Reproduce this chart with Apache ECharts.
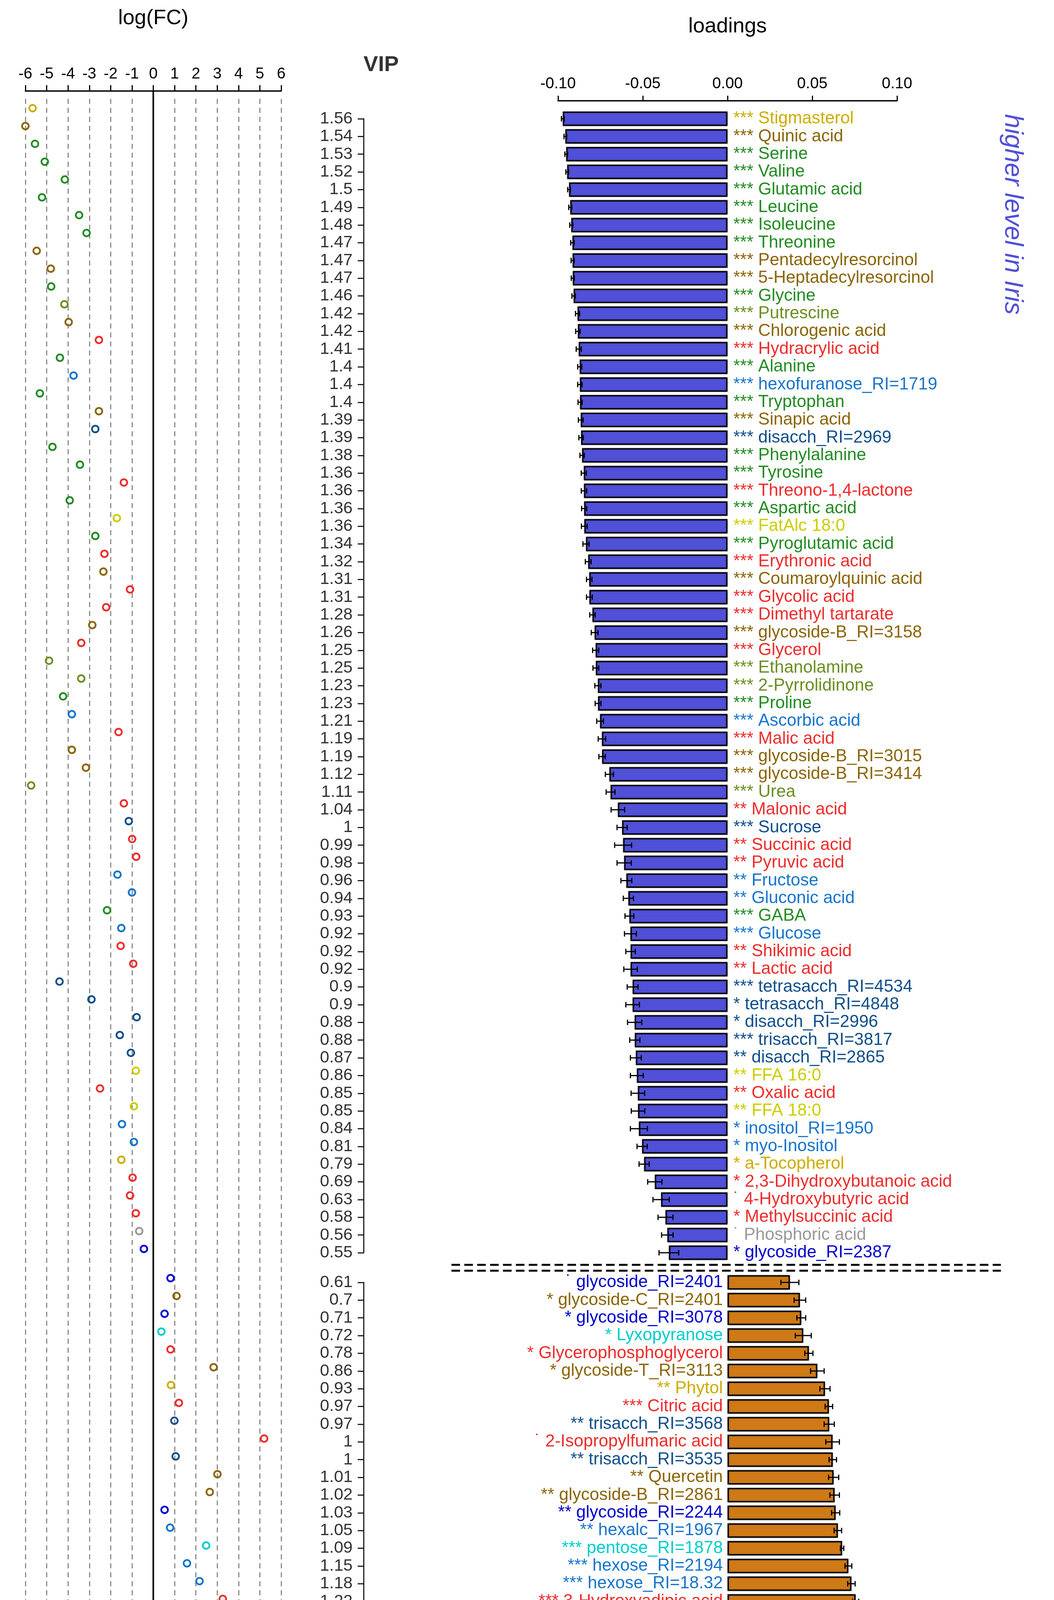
<!DOCTYPE html>
<html>
<head>
<meta charset="utf-8">
<script src="https://cdn.jsdelivr.net/npm/echarts@6/dist/echarts.min.js"></script>
<style>
  html, body { margin: 0; padding: 0; background: #fff; }
  #chart { width: 2699px; height: 4933px; }
</style>
</head>
<body>
<div id="chart"></div>
<script>
// 上半部分：在 Iris 中含量更高（负载为负）
const upperNames = ['Stigmasterol', 'Quinic acid', 'Serine', 'Valine', 'Glutamic acid', 'Leucine', 'Isoleucine', 'Threonine', 'Pentadecylresorcinol', '5-Heptadecylresorcinol',
  'Glycine', 'Putrescine', 'Chlorogenic acid', 'Hydracrylic acid', 'Alanine', 'hexofuranose_RI=1719', 'Tryptophan', 'Sinapic acid', 'disacch_RI=2969', 'Phenylalanine',
  'Tyrosine', 'Threono-1,4-lactone', 'Aspartic acid', 'FatAlc 18:0', 'Pyroglutamic acid', 'Erythronic acid', 'Coumaroylquinic acid', 'Glycolic acid', 'Dimethyl tartarate', 'glycoside-B_RI=3158',
  'Glycerol', 'Ethanolamine', '2-Pyrrolidinone', 'Proline', 'Ascorbic acid', 'Malic acid', 'glycoside-B_RI=3015', 'glycoside-B_RI=3414', 'Urea', 'Malonic acid',
  'Sucrose', 'Succinic acid', 'Pyruvic acid', 'Fructose', 'Gluconic acid', 'GABA', 'Glucose', 'Shikimic acid', 'Lactic acid', 'tetrasacch_RI=4534',
  'tetrasacch_RI=4848', 'disacch_RI=2996', 'trisacch_RI=3817', 'disacch_RI=2865', 'FFA 16:0', 'Oxalic acid', 'FFA 18:0', 'inositol_RI=1950', 'myo-Inositol', 'a-Tocopherol',
  '2,3-Dihydroxybutanoic acid', '4-Hydroxybutyric acid', 'Methylsuccinic acid', 'Phosphoric acid', 'glycoside_RI=2387'];
const upperStars = ['***', '***', '***', '***', '***', '***', '***', '***', '***', '***',
  '***', '***', '***', '***', '***', '***', '***', '***', '***', '***',
  '***', '***', '***', '***', '***', '***', '***', '***', '***', '***',
  '***', '***', '***', '***', '***', '***', '***', '***', '***', '**',
  '***', '**', '**', '**', '**', '***', '***', '**', '**', '***',
  '*', '*', '***', '**', '**', '**', '**', '*', '*', '*',
  '*', '˙', '*', '˙', '*'];
const upperClass = ['terp', 'phen', 'amino', 'amino', 'amino', 'amino', 'amino', 'amino', 'phen', 'phen',
  'amino', 'amine', 'phen', 'acid', 'amino', 'sugar', 'amino', 'phen', 'oligo', 'amino',
  'amino', 'acid', 'amino', 'fatty', 'amino', 'acid', 'phen', 'acid', 'acid', 'phen',
  'acid', 'amine', 'amine', 'amino', 'sugar', 'acid', 'phen', 'phen', 'amine', 'acid',
  'oligo', 'acid', 'acid', 'sugar', 'sugar', 'amino', 'sugar', 'acid', 'acid', 'oligo',
  'oligo', 'oligo', 'oligo', 'oligo', 'fatty', 'acid', 'fatty', 'sugar', 'sugar', 'terp',
  'acid', 'acid', 'acid', 'other', 'glyc'];
const upperVip = [1.56, 1.54, 1.53, 1.52, 1.5, 1.49, 1.48, 1.47, 1.47, 1.47,
  1.46, 1.42, 1.42, 1.41, 1.4, 1.4, 1.4, 1.39, 1.39, 1.38,
  1.36, 1.36, 1.36, 1.36, 1.34, 1.32, 1.31, 1.31, 1.28, 1.26,
  1.25, 1.25, 1.23, 1.23, 1.21, 1.19, 1.19, 1.12, 1.11, 1.04,
  1, 0.99, 0.98, 0.96, 0.94, 0.93, 0.92, 0.92, 0.92, 0.9,
  0.9, 0.88, 0.88, 0.87, 0.86, 0.85, 0.85, 0.84, 0.81, 0.79,
  0.69, 0.63, 0.58, 0.56, 0.55];
const upperLoad = [-0.0972, -0.0957, -0.0952, -0.0946, -0.0935, -0.0928, -0.0922, -0.0915, -0.0914, -0.0913,
  -0.0908, -0.0885, -0.0883, -0.0878, -0.0872, -0.0871, -0.0870, -0.0866, -0.0864, -0.0858,
  -0.0848, -0.0847, -0.0846, -0.0845, -0.0835, -0.0822, -0.0816, -0.0815, -0.0797, -0.0784,
  -0.0778, -0.0777, -0.0765, -0.0764, -0.0752, -0.0741, -0.0740, -0.0697, -0.0690, -0.0647,
  -0.0622, -0.0616, -0.0610, -0.0597, -0.0585, -0.0579, -0.0573, -0.0572, -0.0572, -0.0560,
  -0.0560, -0.0548, -0.0547, -0.0541, -0.0535, -0.0529, -0.0528, -0.0523, -0.0504, -0.0492,
  -0.0429, -0.0392, -0.0366, -0.0355, -0.0346];
const upperErr = [0.0008, 0.0008, 0.0008, 0.0008, 0.0008, 0.0009, 0.0009, 0.0010, 0.0009, 0.0009,
  0.0010, 0.0012, 0.0013, 0.0015, 0.0012, 0.0013, 0.0012, 0.0014, 0.0013, 0.0013,
  0.0015, 0.0016, 0.0015, 0.0017, 0.0018, 0.0017, 0.0016, 0.0017, 0.0016, 0.0020,
  0.0018, 0.0017, 0.0018, 0.0017, 0.0020, 0.0022, 0.0019, 0.0024, 0.0026, 0.0040,
  0.0030, 0.0050, 0.0042, 0.0032, 0.0030, 0.0026, 0.0035, 0.0028, 0.0040, 0.0032,
  0.0040, 0.0042, 0.0030, 0.0032, 0.0038, 0.0040, 0.0040, 0.0050, 0.0030, 0.0030,
  0.0042, 0.0048, 0.0044, 0.0034, 0.0058];
const upperFC = [-5.66, -6.0, -5.55, -5.09, -4.15, -5.22, -3.48, -3.13, -5.47, -4.81,
  -4.79, -4.17, -3.97, -2.55, -4.38, -3.74, -5.32, -2.55, -2.72, -4.73,
  -3.44, -1.38, -3.92, -1.71, -2.72, -2.29, -2.34, -1.09, -2.21, -2.86,
  -3.38, -4.89, -3.38, -4.23, -3.82, -1.63, -3.82, -3.16, -5.73, -1.38,
  -1.15, -0.99, -0.80, -1.68, -1.00, -2.17, -1.50, -1.53, -0.94, -4.40,
  -2.90, -0.78, -1.57, -1.05, -0.82, -2.50, -0.91, -1.47, -0.91, -1.50,
  -0.97, -1.09, -0.82, -0.66, -0.44];

// 下半部分：在 cinquefoils 中含量更高（负载为正）
const lowerNames = ['glycoside_RI=2401', 'glycoside-C_RI=2401', 'glycoside_RI=3078', 'Lyxopyranose', 'Glycerophosphoglycerol', 'glycoside-T_RI=3113', 'Phytol', 'Citric acid', 'trisacch_RI=3568', '2-Isopropylfumaric acid',
  'trisacch_RI=3535', 'Quercetin', 'glycoside-B_RI=2861', 'glycoside_RI=2244', 'hexalc_RI=1967', 'pentose_RI=1878', 'hexose_RI=2194', 'hexose_RI=18.32', '3-Hydroxyadipic acid', 'pentose_RI=1708',
  'Ellagic acid', 'Kaempferol', 'glycoside-C_RI=2204', 'Tartaric acid', 'Xylose', 'Glyceric acid', '4-Coumaric acid', 'Ribofuranose', 'triterpene_RI=3857', 'glycoside-B_RI=2633',
  'glycoside_RI=2396', 'hexalc_RI=1958', 'glycoside_RI=3280', 'Ursolic acid', 'Corosolic acid', 'triterpene_RI=4148'];
const lowerStars = ['˙', '*', '*', '*', '*', '*', '**', '***', '**', '˙',
  '**', '**', '**', '**', '**', '***', '***', '***', '***', '***',
  '***', '***', '***', '***', '***', '***', '***', '***', '***', '***',
  '***', '***', '***', '***', '***', '***'];
const lowerClass = ['glyc', 'phen', 'glyc', 'pent', 'acid', 'phen', 'terp', 'acid', 'oligo', 'acid',
  'oligo', 'phen', 'phen', 'glyc', 'sugar', 'pent', 'sugar', 'sugar', 'acid', 'pent',
  'phen', 'phen', 'phen', 'acid', 'pent', 'acid', 'phen', 'pent', 'terp', 'phen',
  'glyc', 'sugar', 'glyc', 'terp', 'terp', 'terp'];
const lowerVip = [0.61, 0.7, 0.71, 0.72, 0.78, 0.86, 0.93, 0.97, 0.97, 1,
  1, 1.01, 1.02, 1.03, 1.05, 1.09, 1.15, 1.18, 1.22, 1.24,
  1.24, 1.26, 1.28, 1.28, 1.33, 1.35, 1.36, 1.43, 1.43, 1.43,
  1.45, 1.45, 1.46, 1.48, 1.51, 1.51];
const lowerLoad = [0.0368, 0.0427, 0.0435, 0.0447, 0.0480, 0.0530, 0.0575, 0.0598, 0.0600, 0.0620,
  0.0621, 0.0626, 0.0632, 0.0638, 0.0651, 0.0676, 0.0713, 0.0731, 0.0756, 0.0768,
  0.0769, 0.0781, 0.0793, 0.0794, 0.0825, 0.0837, 0.0843, 0.0889, 0.0889, 0.0894,
  0.0899, 0.0904, 0.0910, 0.0920, 0.0935, 0.0941];
const lowerErr = [0.0053, 0.0034, 0.0026, 0.0047, 0.0024, 0.0040, 0.0030, 0.0022, 0.0030, 0.0040,
  0.0022, 0.0030, 0.0028, 0.0024, 0.0022, 0.0010, 0.0020, 0.0022, 0.0018, 0.0018,
  0.0020, 0.0015, 0.0015, 0.0015, 0.0020, 0.0015, 0.0020, 0.0008, 0.0012, 0.0010,
  0.0010, 0.0010, 0.0010, 0.0010, 0.0010, 0.0010];
const lowerFC = [0.81, 1.09, 0.53, 0.38, 0.81, 2.83, 0.83, 1.20, 0.99, 5.20,
  1.05, 3.01, 2.65, 0.53, 0.79, 2.48, 1.58, 2.17, 3.26, 1.88,
  3.31, 2.87, 2.75, 2.42, 6.0, 4.05, 3.03, 4.85, 3.37, 2.92,
  2.09, 3.85, 2.53, 4.19, 4.85, 3.08];

const fcTicks = [-6, 6, 1];
const loadTicks = [-0.1, 0.1, 0.05];

// 代谢物类别颜色
const classColor = {
  terp: '#CDAD00', phen: '#8B6508', amino: '#228B22', amine: '#6B8E23', acid: '#EE2C2C',
  sugar: '#1874CD', oligo: '#104E8B', fatty: '#CDCD00', glyc: '#0000CD', pent: '#00CDCD', other: '#999999'
};
const BLUE = '#5050D8';
const ORANGE = '#CF7A17';
const FONT = '"Liberation Sans", Arial, Helvetica, sans-serif';
const LABEL_FONT = '44px ' + FONT;

// log(FC) 面板中上下两组之间的间隔（以行计）
const FC_GAP = 1.64;
const fcData = upperFC.map((v, i) => ({ value: [v, i], itemStyle: { borderColor: classColor[upperClass[i]] } }))
  .concat(lowerFC.map((v, j) => ({ value: [v, upperFC.length - 1 + FC_GAP + j], itemStyle: { borderColor: classColor[lowerClass[j]] } })));

function errorBar(errs) {
  return function (params, api) {
    const v = api.value(0), i = api.value(1), e = errs[params.dataIndex];
    const a = api.coord([v - e, i]);
    const b = api.coord([v + e, i]);
    const h = 7;
    const st = { stroke: '#000', lineWidth: 3 };
    return {
      type: 'group',
      children: [
        { type: 'line', shape: { x1: a[0], y1: a[1], x2: b[0], y2: b[1] }, style: st },
        { type: 'line', shape: { x1: a[0], y1: a[1] - h, x2: a[0], y2: a[1] + h }, style: st },
        { type: 'line', shape: { x1: b[0], y1: b[1] - h, x2: b[0], y2: b[1] + h }, style: st }
      ]
    };
  };
}

function nameLabel(names, stars, cls, side) {
  return function (params, api) {
    const i = params.dataIndex;
    const p = api.coord([0, api.value(1)]);
    return {
      type: 'text',
      x: side > 0 ? p[0] + 15 : p[0] - 12,
      y: p[1],
      style: {
        text: stars[i] + ' ' + names[i],
        fill: classColor[cls[i]],
        font: LABEL_FONT,
        align: side > 0 ? 'left' : 'right',
        verticalAlign: 'middle'
      }
    };
  };
}

function vipAxis(gridIndex, names, vips) {
  return {
    type: 'category', gridIndex: gridIndex, data: names, inverse: true, boundaryGap: false,
    position: 'left', offset: 498,
    axisLine: { show: true, onZero: false, lineStyle: { color: '#222', width: 3 } },
    axisTick: { show: true, length: 15, interval: 0, lineStyle: { color: '#222', width: 3 } },
    axisLabel: {
      interval: 0, margin: 28, fontSize: 43, color: '#333', fontFamily: FONT,
      formatter: function (v, idx) { return String(vips[idx]); }
    },
    splitLine: { show: false }
  };
}

const chart = echarts.init(document.getElementById('chart'), null, { renderer: 'canvas' });

const graphicEls = [
  { type: 'text', x: 976, y: 167, style: { text: 'VIP', font: 'bold 56px ' + FONT, fill: '#333', align: 'center', verticalAlign: 'middle' } },
  { type: 'text', x: 2592, y: 292, rotation: -Math.PI / 2, style: { text: 'higher level in Iris', font: 'italic 66px ' + FONT, fill: BLUE, align: 'left', verticalAlign: 'middle' } },
  { type: 'text', x: 2592, y: 4876, rotation: -Math.PI / 2, style: { text: 'higher level in cinquefoils', font: 'italic 66px ' + FONT, fill: ORANGE, align: 'right', verticalAlign: 'middle' } },
  { type: 'line', shape: { x1: 1156, y1: 3238, x2: 2563, y2: 3238 }, style: { stroke: '#000', lineWidth: 5, lineDash: [22, 11] } },
  { type: 'line', shape: { x1: 1156, y1: 3253, x2: 2563, y2: 3253 }, style: { stroke: '#000', lineWidth: 5, lineDash: [22, 11] } }
];

const option = {
  animation: false,
  backgroundColor: '#fff',
  textStyle: { fontFamily: FONT },
  grid: [
    { left: 65, width: 655, top: 253, bottom: 44, outerBoundsMode: 'none' },
    { left: 1429, right: 402, top: 304, height: 2903, outerBoundsMode: 'none' },
    { left: 1429, right: 402, top: 3283, height: 1588, outerBoundsMode: 'none' }
  ],
  xAxis: [
    {
      type: 'value', gridIndex: 0, position: 'top', offset: 20,
      min: fcTicks[0], max: fcTicks[1], interval: fcTicks[2],
      name: 'log(FC)', nameLocation: 'middle', nameGap: 159,
      nameTextStyle: { fontSize: 54, color: '#000', fontFamily: FONT },
      axisLine: { show: true, onZero: false, lineStyle: { color: '#000', width: 3.5 } },
      axisTick: { show: true, length: 15, lineStyle: { color: '#000', width: 3 } },
      axisLabel: { fontSize: 40, color: '#000', margin: 23, fontFamily: FONT },
      splitLine: { show: true, lineStyle: { color: '#8c8c8c', width: 3, type: [13, 10] } }
    },
    {
      type: 'value', gridIndex: 1, position: 'top', offset: 46,
      min: loadTicks[0], max: loadTicks[1], interval: loadTicks[2],
      name: 'loadings', nameLocation: 'middle', nameGap: 163,
      nameTextStyle: { fontSize: 54, color: '#000', fontFamily: FONT },
      axisLine: { show: true, onZero: false, lineStyle: { color: '#000', width: 3.5 } },
      axisTick: { show: true, length: 13, lineStyle: { color: '#000', width: 3 } },
      axisLabel: { fontSize: 40, color: '#000', margin: 23, fontFamily: FONT, formatter: v => v.toFixed(2) },
      splitLine: { show: false }
    },
    { type: 'value', gridIndex: 2, min: loadTicks[0], max: loadTicks[1], show: false, axisLine: { onZero: false }, splitLine: { show: false } }
  ],
  yAxis: [
    { type: 'value', gridIndex: 0, inverse: true, min: -0.526, max: 101.079, show: false, axisLine: { onZero: false }, splitLine: { show: false } },
    vipAxis(1, upperNames, upperVip),
    vipAxis(2, lowerNames, lowerVip)
  ],
  series: [
    {
      type: 'scatter', xAxisIndex: 0, yAxisIndex: 0, data: fcData,
      symbol: 'circle', symbolSize: 17, z: 5,
      itemStyle: { color: 'transparent', borderWidth: 4.5, opacity: 1 }
    },
    {
      type: 'bar', xAxisIndex: 1, yAxisIndex: 1, data: upperLoad, barWidth: 37, clip: false,
      itemStyle: { color: BLUE, borderColor: '#000', borderWidth: 3.5, shadowColor: 'rgba(0,0,0,0.25)', shadowBlur: 4 }
    },
    {
      type: 'custom', xAxisIndex: 1, yAxisIndex: 1, z: 4,
      data: upperLoad.map((v, i) => [v, i]), encode: { x: 0, y: 1 },
      renderItem: errorBar(upperErr)
    },
    {
      type: 'custom', xAxisIndex: 1, yAxisIndex: 1, z: 4,
      data: upperNames.map((n, i) => [0, i]), encode: { x: 0, y: 1 },
      renderItem: nameLabel(upperNames, upperStars, upperClass, 1)
    },
    {
      type: 'bar', xAxisIndex: 2, yAxisIndex: 2, data: lowerLoad, barWidth: 37, clip: false,
      itemStyle: { color: ORANGE, borderColor: '#000', borderWidth: 3.5, shadowColor: 'rgba(0,0,0,0.25)', shadowBlur: 4 }
    },
    {
      type: 'custom', xAxisIndex: 2, yAxisIndex: 2, z: 4,
      data: lowerLoad.map((v, i) => [v, i]), encode: { x: 0, y: 1 },
      renderItem: errorBar(lowerErr)
    },
    {
      type: 'custom', xAxisIndex: 2, yAxisIndex: 2, z: 4,
      data: lowerNames.map((n, i) => [0, i]), encode: { x: 0, y: 1 },
      renderItem: nameLabel(lowerNames, lowerStars, lowerClass, -1)
    }
  ],
  graphic: graphicEls
};

chart.setOption(option);

// log(FC) 的零线：从坐标轴一直画到底部
const zeroX = chart.convertToPixel({ xAxisIndex: 0 }, 0);
chart.setOption({
  graphic: graphicEls.concat([
    { type: 'line', z: 10, shape: { x1: zeroX, y1: 233, x2: zeroX, y2: 4889 }, style: { stroke: '#000', lineWidth: 4 } }
  ])
});
</script>
</body>
</html>
